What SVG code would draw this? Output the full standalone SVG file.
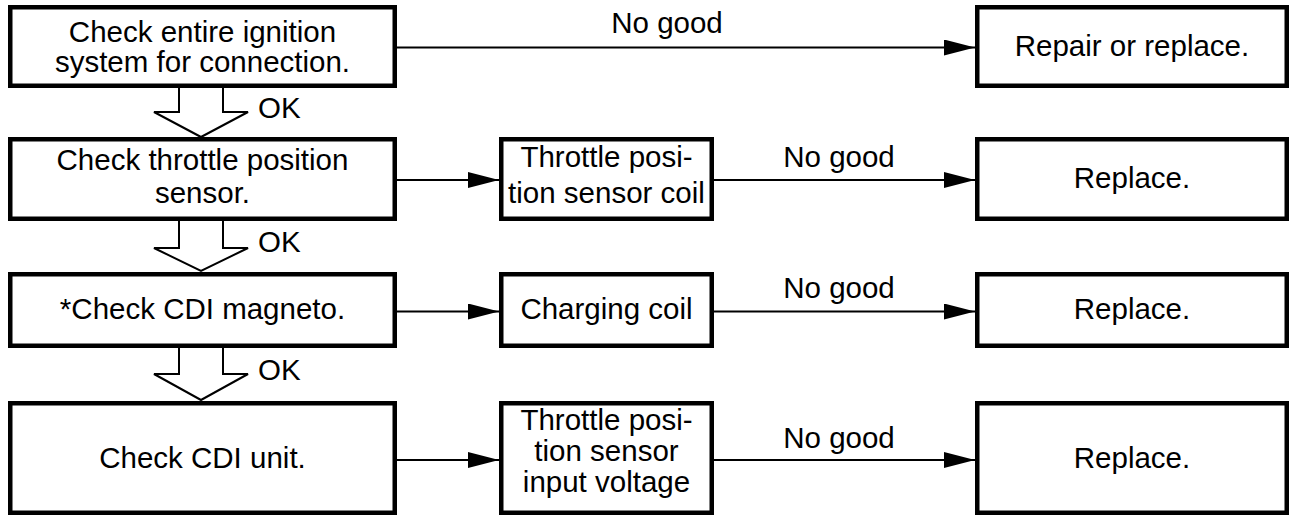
<svg xmlns="http://www.w3.org/2000/svg" width="1291" height="517" viewBox="0 0 1291 517">
<style>
.box{fill:#fff;stroke:#000;stroke-width:4.5}
.t{font-family:"Liberation Sans",Arial,Helvetica,sans-serif;font-size:29.5px;fill:#000;text-anchor:middle}
.l{font-family:"Liberation Sans",Arial,Helvetica,sans-serif;font-size:29.5px;fill:#000}
.c{stroke:#000;stroke-width:2;fill:none}
.big{fill:#fff;stroke:#000;stroke-width:2;stroke-linejoin:miter}
</style>
<defs>
<marker id="ah" markerUnits="userSpaceOnUse" markerWidth="34" markerHeight="18" refX="31" refY="8" orient="auto">
<polygon points="0,0 31,8 0,16" fill="#000"/>
</marker>
</defs>
<g id="connectors">
<line class="c" x1="397" y1="47.5" x2="975" y2="47.5" marker-end="url(#ah)"/>
<line class="c" x1="397" y1="180" x2="499" y2="180" marker-end="url(#ah)"/>
<line class="c" x1="714" y1="180" x2="975" y2="180" marker-end="url(#ah)"/>
<line class="c" x1="397" y1="311.5" x2="499" y2="311.5" marker-end="url(#ah)"/>
<line class="c" x1="714" y1="311.5" x2="975" y2="311.5" marker-end="url(#ah)"/>
<line class="c" x1="397" y1="460" x2="499" y2="460" marker-end="url(#ah)"/>
<line class="c" x1="714" y1="460" x2="975" y2="460" marker-end="url(#ah)"/>
<polyline class="big" points="179,86 179,112 154,112 201,137 248,112 223,112 223,86"/>
<polyline class="big" points="179,219 179,248 154,248 201,271 248,248 223,248 223,219"/>
<polyline class="big" points="179,347 179,374 154,374 201,400 248,374 223,374 223,347"/>
<text class="l" x="258" y="118">OK</text>
<text class="l" x="258" y="252">OK</text>
<text class="l" x="258" y="380">OK</text>
<text class="t" x="667" y="33">No good</text>
<text class="t" x="839" y="167">No good</text>
<text class="t" x="839" y="298">No good</text>
<text class="t" x="839" y="448">No good</text>
</g>
<g id="n1">
<rect class="box" x="10.25" y="7.25" width="384.5" height="78.5"/>
<text class="t" x="202.5" y="42">Check entire ignition</text>
<text class="t" x="202.5" y="72">system for connection.</text>
</g>
<g id="n2">
<rect class="box" x="10.25" y="139.25" width="384.5" height="79.5"/>
<text class="t" x="202.5" y="170">Check throttle position</text>
<text class="t" x="202.5" y="203">sensor.</text>
</g>
<g id="n3">
<rect class="box" x="10.25" y="274.25" width="384.5" height="71.5"/>
<text class="t" x="202.5" y="319">*Check CDI magneto.</text>
</g>
<g id="n4">
<rect class="box" x="10.25" y="403.25" width="384.5" height="109.5"/>
<text class="t" x="202.5" y="468">Check CDI unit.</text>
</g>
<g id="m1">
<rect class="box" x="501.25" y="139.25" width="210.5" height="79.5"/>
<text class="t" x="606.5" y="167">Throttle posi-</text>
<text class="t" x="606.5" y="203">tion sensor coil</text>
</g>
<g id="m2">
<rect class="box" x="501.25" y="274.25" width="210.5" height="71.5"/>
<text class="t" x="606.5" y="319">Charging coil</text>
</g>
<g id="m3">
<rect class="box" x="501.25" y="403.25" width="210.5" height="109.5"/>
<text class="t" x="606.5" y="430">Throttle posi-</text>
<text class="t" x="606.5" y="461">tion sensor</text>
<text class="t" x="606.5" y="492">input voltage</text>
</g>
<g id="r1">
<rect class="box" x="977.25" y="7.25" width="309.5" height="78.5"/>
<text class="t" x="1132" y="56">Repair or replace.</text>
</g>
<g id="r2">
<rect class="box" x="977.25" y="139.25" width="309.5" height="79.5"/>
<text class="t" x="1132" y="188">Replace.</text>
</g>
<g id="r3">
<rect class="box" x="977.25" y="274.25" width="309.5" height="71.5"/>
<text class="t" x="1132" y="319">Replace.</text>
</g>
<g id="r4">
<rect class="box" x="977.25" y="403.25" width="309.5" height="109.5"/>
<text class="t" x="1132" y="468">Replace.</text>
</g>
</svg>
